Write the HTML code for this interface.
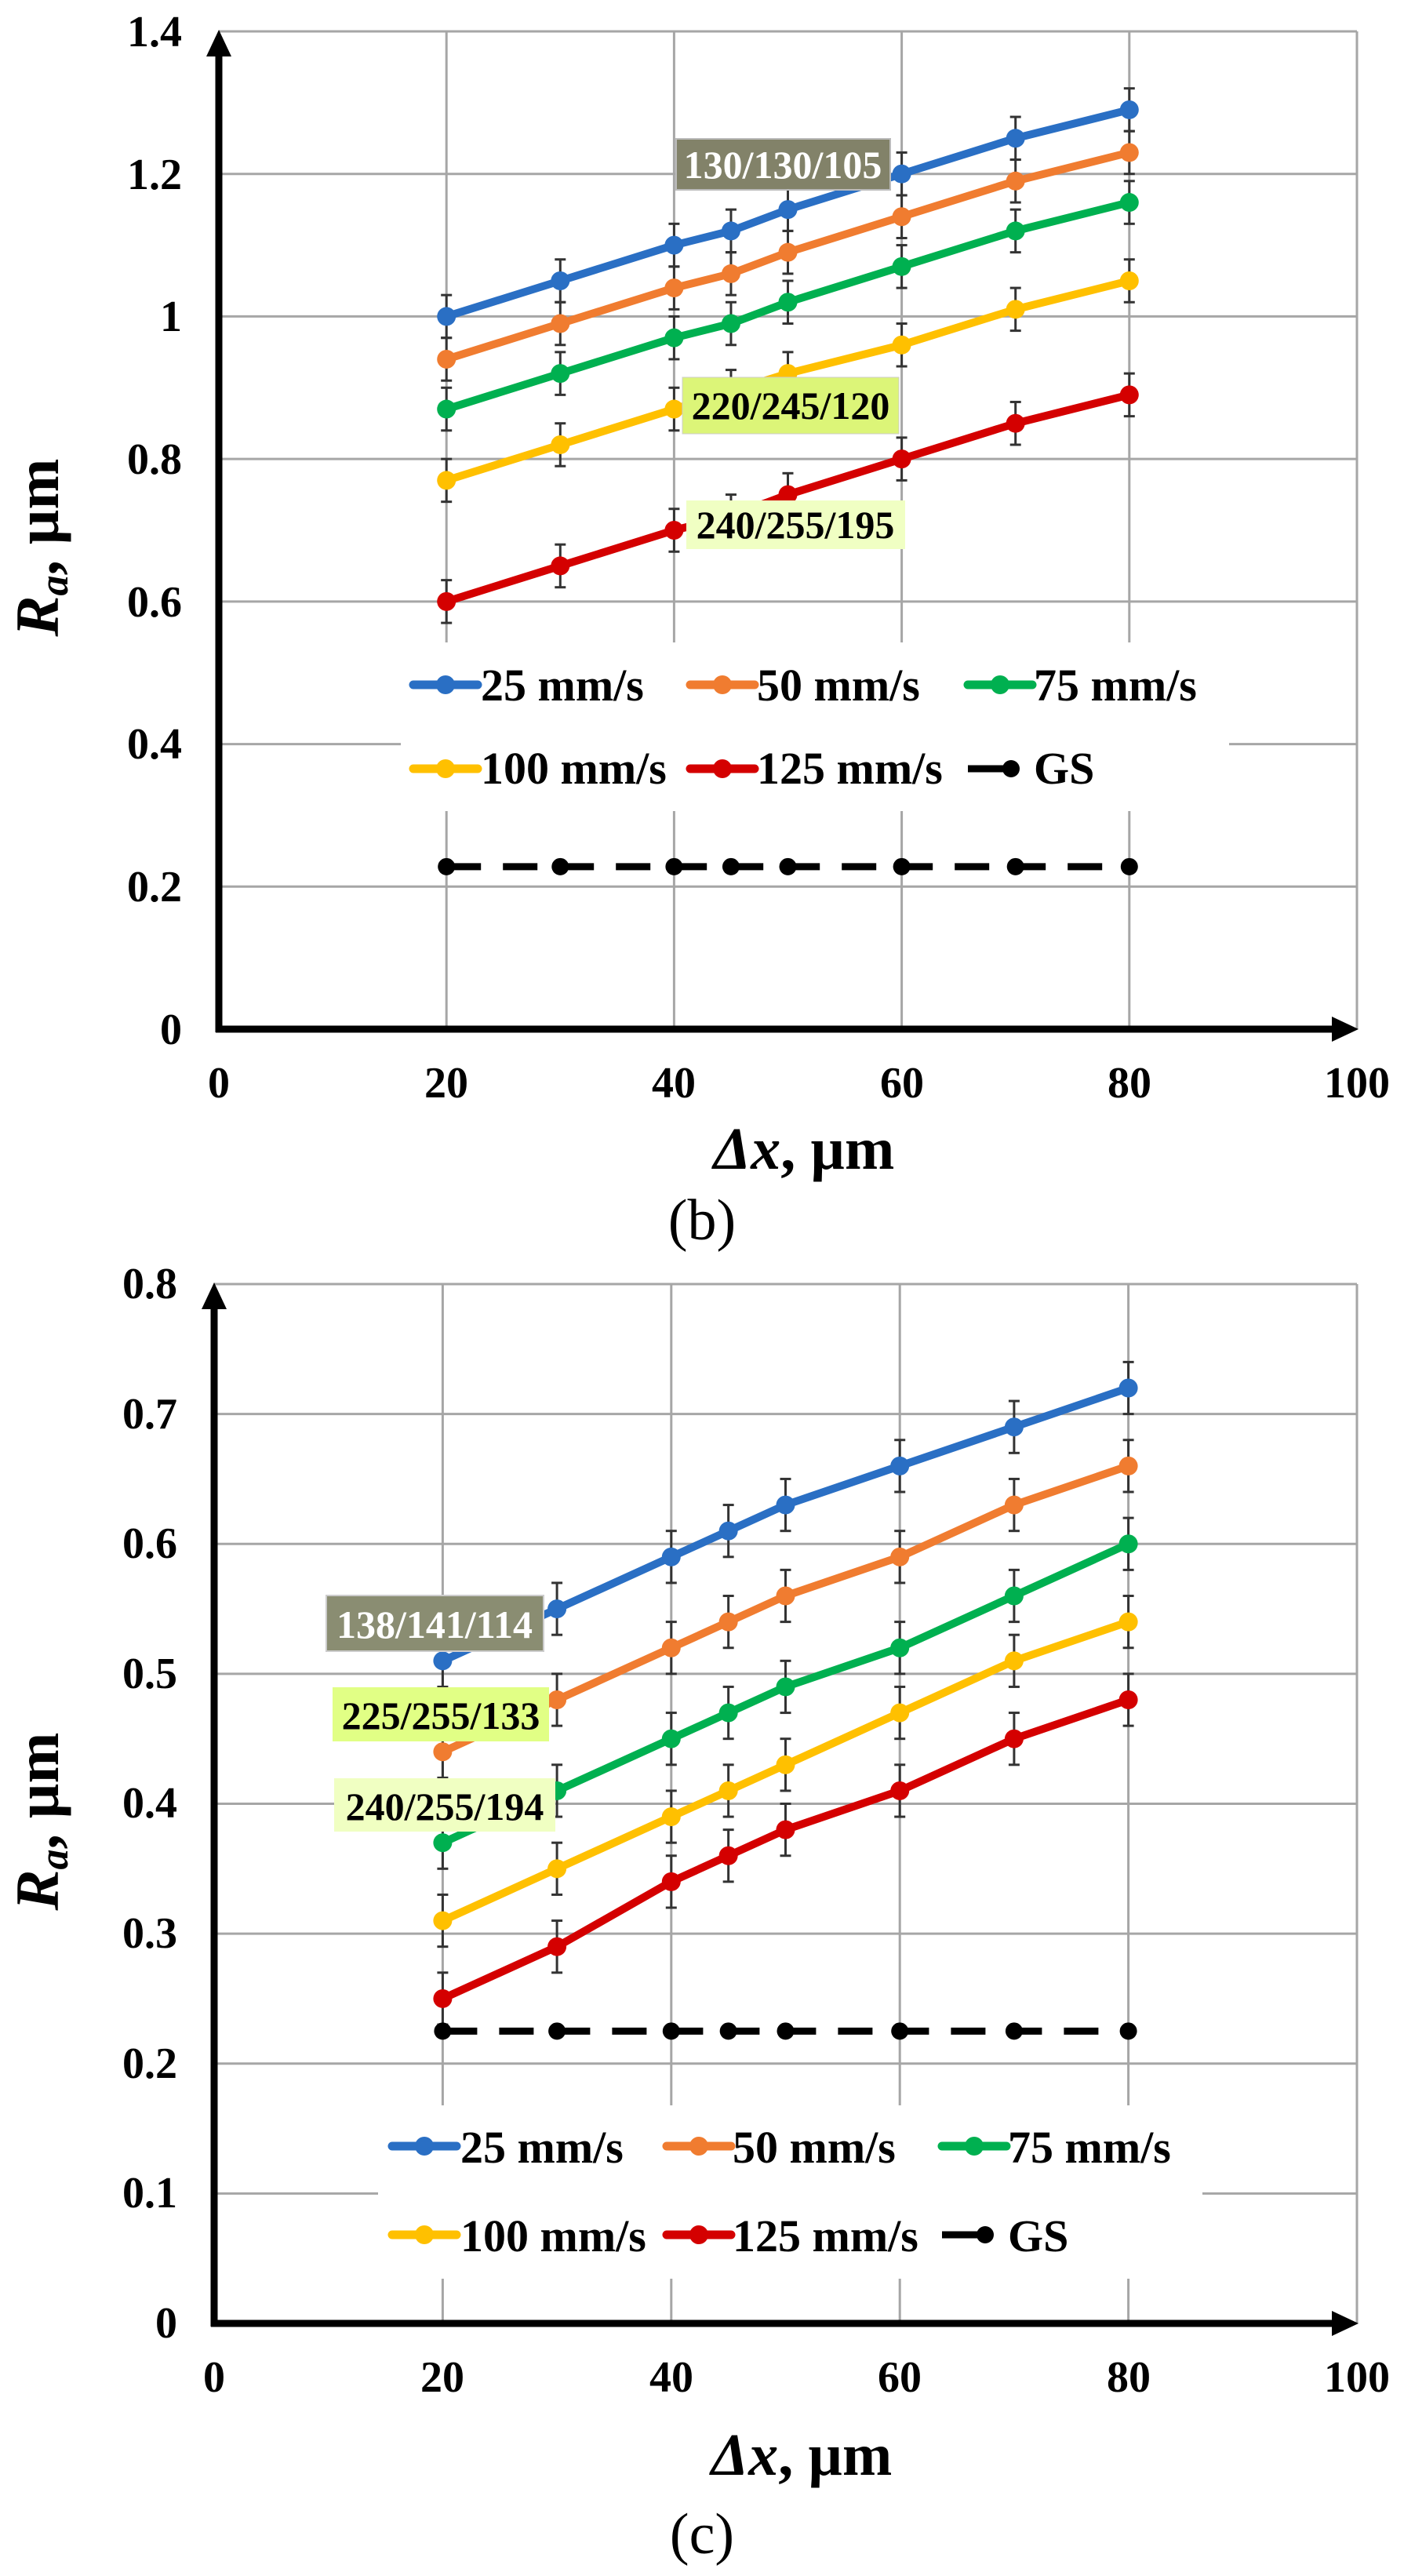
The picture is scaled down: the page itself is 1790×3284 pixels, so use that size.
<!DOCTYPE html>
<html><head><meta charset="utf-8"><style>
html,body{margin:0;padding:0;background:#fff;}
svg{display:block;}
text{font-family:"Liberation Serif",serif;font-weight:bold;}
text.cap{font-weight:normal;}
</style></head><body>
<svg id="s" width="1790" height="3284" viewBox="0 0 1790 3284" xmlns="http://www.w3.org/2000/svg">
<g id="grid"></g>
<g id="legbg"><rect x="511" y="819" width="1056" height="215" fill="#fff"/><rect x="482" y="2684" width="1051" height="221" fill="#fff"/></g>
<g id="axes"></g>
<g id="series"></g>
<g font-size="56" text-anchor="end">
<text x="232" y="59">1.4</text><text x="232" y="241">1.2</text><text x="232" y="422">1</text><text x="232" y="604">0.8</text><text x="232" y="786">0.6</text><text x="232" y="967">0.4</text><text x="232" y="1149">0.2</text><text x="232" y="1331">0</text>
</g>
<g font-size="56" text-anchor="middle">
<text x="279" y="1399">0</text><text x="569" y="1399">20</text><text x="859" y="1399">40</text><text x="1150" y="1399">60</text><text x="1440" y="1399">80</text><text x="1730" y="1399">100</text>
</g>
<text x="1025" y="1490" font-size="76" text-anchor="middle"><tspan font-style="italic">Δx</tspan>, µm</text>
<text class="cap" x="895" y="1580" font-size="74" text-anchor="middle">(b)</text>
<text transform="translate(74,698) rotate(-90)" font-size="78" text-anchor="middle"><tspan font-style="italic">R</tspan><tspan font-style="italic" font-size="52" dy="12">a</tspan><tspan dy="-12">, µm</tspan></text>
<g font-size="56" text-anchor="end">
<text x="226" y="1655">0.8</text><text x="226" y="1821">0.7</text><text x="226" y="1986">0.6</text><text x="226" y="2152">0.5</text><text x="226" y="2317">0.4</text><text x="226" y="2483">0.3</text><text x="226" y="2649">0.2</text><text x="226" y="2814">0.1</text><text x="226" y="2980">0</text>
</g>
<g font-size="56" text-anchor="middle">
<text x="273" y="3049">0</text><text x="564" y="3049">20</text><text x="856" y="3049">40</text><text x="1147" y="3049">60</text><text x="1439" y="3049">80</text><text x="1730" y="3049">100</text>
</g>
<text x="1022" y="3155" font-size="76" text-anchor="middle"><tspan font-style="italic">Δx</tspan>, µm</text>
<text class="cap" x="895" y="3255" font-size="74" text-anchor="middle">(c)</text>
<text transform="translate(74,2322) rotate(-90)" font-size="78" text-anchor="middle"><tspan font-style="italic">R</tspan><tspan font-style="italic" font-size="52" dy="12">a</tspan><tspan dy="-12">, µm</tspan></text>
<g id="leglines"></g>
<g font-size="58">
<text x="613" y="893">25 mm/s</text><text x="965" y="893">50 mm/s</text><text x="1318" y="893">75 mm/s</text>
<text x="613" y="999">100 mm/s</text><text x="965" y="999">125 mm/s</text><text x="1318" y="999">GS</text>
<text x="587" y="2757">25 mm/s</text><text x="934" y="2757">50 mm/s</text><text x="1285" y="2757">75 mm/s</text>
<text x="587" y="2870">100 mm/s</text><text x="934" y="2870">125 mm/s</text><text x="1285" y="2870">GS</text>
</g>
<g id="labels">
<rect x="862" y="177" width="273" height="65" fill="#828269" stroke="#bbb" stroke-width="2"/>
<text x="998" y="227" font-size="50" fill="#fff" text-anchor="middle">130/130/105</text>
<rect x="870" y="481" width="276" height="72" fill="#dcf578" stroke="#ccc" stroke-width="1"/>
<text x="1008" y="534" font-size="50" text-anchor="middle">220/245/120</text>
<rect x="875" y="638" width="279" height="62" fill="#f0ffc3"/>
<text x="1014" y="686" font-size="50" text-anchor="middle">240/255/195</text>
<rect x="416" y="2034" width="277" height="71" fill="#8a8d72" stroke="#ccc" stroke-width="2"/>
<text x="554" y="2088" font-size="50" fill="#fff" text-anchor="middle">138/141/114</text>
<rect x="424" y="2151" width="276" height="69" fill="#e1ff85"/>
<text x="562" y="2204" font-size="50" text-anchor="middle">225/255/133</text>
<rect x="426" y="2267" width="282" height="68" fill="#f0ffc2"/>
<text x="567" y="2320" font-size="50" text-anchor="middle">240/255/194</text>
</g>
</svg>
<script>
(function(){
var NS="http://www.w3.org/2000/svg";
function el(p,t,a){var e=document.createElementNS(NS,t);for(var k in a)e.setAttribute(k,a[k]);p.appendChild(e);return e;}
var grid=document.getElementById('grid'),axes=document.getElementById('axes'),ser=document.getElementById('series'),ll=document.getElementById('leglines');
var cols=['#2a6fc4','#f07c30','#00b050','#ffc000','#d40000'];
var xs=[20,30,40,45,50,60,70,80];
var charts=[
 {x0:279,x1:1730,y0:1312,ytop:40,ymax:1.4,step:0.2,err:0.03,gs:0.228,
  data:[[1.00,1.05,1.10,1.12,1.15,1.20,1.25,1.29],[.94,.99,1.04,1.06,1.09,1.14,1.19,1.23],[.87,.92,.97,.99,1.02,1.07,1.12,1.16],[.77,.82,.87,.895,.92,.96,1.01,1.05],[.60,.65,.70,.72,.75,.80,.85,.89]],
  leg:{x:[527,880,1234],y:[873,980],len:82}},
 {x0:273,x1:1730,y0:2962,ytop:1637,ymax:0.8,step:0.1,err:0.02,gs:0.225,
  data:[[.51,.55,.59,.61,.63,.66,.69,.72],[.44,.48,.52,.54,.56,.59,.63,.66],[.37,.41,.45,.47,.49,.52,.56,.60],[.31,.35,.39,.41,.43,.47,.51,.54],[.25,.29,.34,.36,.38,.41,.45,.48]],
  leg:{x:[500,850,1201],y:[2736,2849],len:82}}
];
charts.forEach(function(c){
 function X(v){return c.x0+(c.x1-c.x0)*v/100;}
 function Y(v){return c.y0-(c.y0-c.ytop)*v/c.ymax;}
 var n=Math.round(c.ymax/c.step);
 for(var i=1;i<=n;i++){var y=Y(i*c.step);el(grid,'line',{x1:c.x0,x2:c.x1,y1:y,y2:y,stroke:'#a6a6a6','stroke-width':3});}
 [20,40,60,80,100].forEach(function(v){el(grid,'line',{x1:X(v),x2:X(v),y1:c.ytop,y2:c.y0,stroke:'#a6a6a6','stroke-width':3});});
 el(axes,'line',{x1:c.x0,x2:c.x0,y1:c.y0+4,y2:c.ytop+30,stroke:'#000','stroke-width':9});
 el(axes,'polygon',{points:(c.x0-16)+','+(c.ytop+32)+' '+(c.x0+16)+','+(c.ytop+32)+' '+c.x0+','+(c.ytop-2),fill:'#000'});
 el(axes,'line',{x1:c.x0-4,x2:c.x1-30,y1:c.y0,y2:c.y0,stroke:'#000','stroke-width':9});
 el(axes,'polygon',{points:(c.x1-32)+','+(c.y0-16)+' '+(c.x1-32)+','+(c.y0+16)+' '+(c.x1+2)+','+c.y0,fill:'#000'});
 c.data.forEach(function(d){d.forEach(function(v,i){var x=X(xs[i]),a=Y(v+c.err),b=Y(v-c.err);
  el(ser,'line',{x1:x,x2:x,y1:a,y2:b,stroke:'#333','stroke-width':3});
  el(ser,'line',{x1:x-7,x2:x+7,y1:a,y2:a,stroke:'#333','stroke-width':3});
  el(ser,'line',{x1:x-7,x2:x+7,y1:b,y2:b,stroke:'#333','stroke-width':3});});});
 c.data.forEach(function(d,k){
  var pts=d.map(function(v,i){return X(xs[i])+','+Y(v);}).join(' ');
  el(ser,'polyline',{points:pts,fill:'none',stroke:cols[k],'stroke-width':10,'stroke-linejoin':'round'});
  d.forEach(function(v,i){el(ser,'circle',{cx:X(xs[i]),cy:Y(v),r:12,fill:cols[k]});});
 });
 var gy=Y(c.gs);
 el(ser,'line',{x1:X(20),x2:X(80),y1:gy,y2:gy,stroke:'#000','stroke-width':9,'stroke-dasharray':'44,28'});
 xs.forEach(function(v){el(ser,'circle',{cx:X(v),cy:gy,r:11,fill:'#000'});});
 var L=c.leg;
 for(var k=0;k<6;k++){var lx=L.x[k%3],ly=L.y[Math.floor(k/3)];
  if(k<5){el(ll,'line',{x1:lx,x2:lx+L.len,y1:ly,y2:ly,stroke:cols[k],'stroke-width':11,'stroke-linecap':'round'});el(ll,'circle',{cx:lx+L.len/2,cy:ly,r:12,fill:cols[k]});}
  else{el(ll,'line',{x1:lx,x2:lx+50,y1:ly,y2:ly,stroke:'#000','stroke-width':9});el(ll,'circle',{cx:lx+L.len/2+14,cy:ly,r:11,fill:'#000'});}
 }
});
})();
</script>
</body></html>
